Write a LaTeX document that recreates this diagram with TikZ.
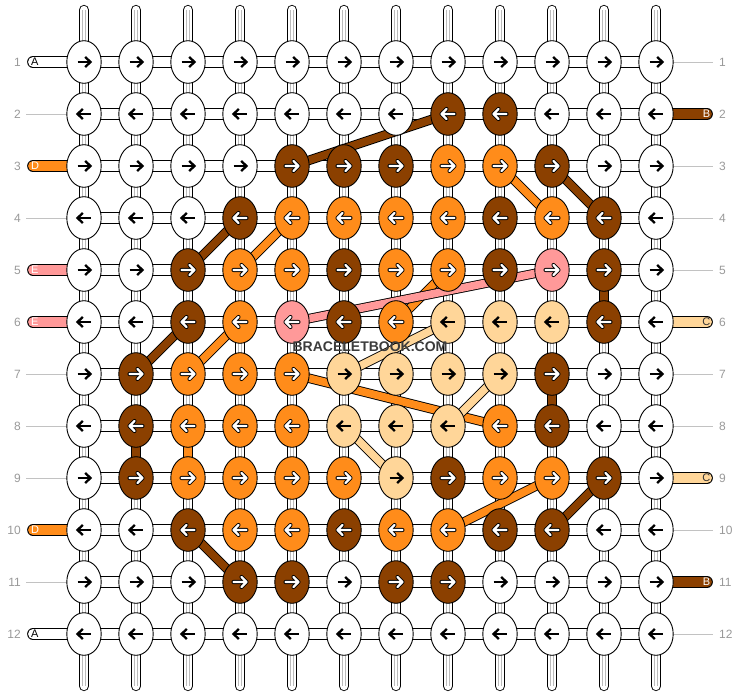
\documentclass[tikz,border=0pt]{standalone}
\usepackage{fontspec}
\setmainfont{Liberation Sans}
\usetikzlibrary{shapes.geometric}
\definecolor{cw}{HTML}{FFFFFF}
\definecolor{cb}{HTML}{8B4000}
\definecolor{co}{HTML}{FF8C1A}
\definecolor{cp}{HTML}{FF9999}
\definecolor{cc}{HTML}{FFD699}
\definecolor{lab}{HTML}{999999}
\definecolor{tube}{HTML}{BBBBBB}
\definecolor{wm}{HTML}{3C3C3C}
\definecolor{ctxt}{HTML}{333333}
\newcommand\mykArrow{\draw[black,line width=2.3pt] (-6.5,0) -- (6,0);
  \draw[black,line width=2.3pt,line join=miter] (1.2,-5) -- (6.5,0) -- (1.2,5);}
\newcommand\mywArrow{\draw[black,line width=4.1pt,line cap=round,line join=round] (-6.5,0) -- (6.5,0) (1.5,-5) -- (6.5,0) -- (1.5,5);
  \draw[white,line width=2.2pt,line cap=round,line join=round] (-6.5,0) -- (6.5,0) (1.5,-5) -- (6.5,0) -- (1.5,5);}
\tikzset{aw/.pic={\mykArrow}, ac/.pic={\mykArrow}, ab/.pic={\mywArrow}, ao/.pic={\mywArrow}, ap/.pic={\mywArrow}}
\begin{document}
\begin{tikzpicture}[x=1pt,y=-1pt,
  knot/.style={ellipse,draw=black,line width=0.9pt,minimum width=34.4pt,minimum height=42.6pt,inner sep=0pt},
  rowlab/.style={text=lab,font=\fontsize{12}{14}\selectfont,inner sep=0pt},
  stubtxt/.style={font=\fontsize{11}{12}\selectfont,inner sep=0pt},
  guide/.style={draw=lab!60,line width=0.7pt},
  outl/.style={draw=black,line width=#1},
  ]
\useasboundingbox (0,0) rectangle (740,696);
% grid coordinates
\foreach \j in {1,...,12}{\foreach \i in {1,...,12}{\coordinate (c-\j-\i) at ({84+(\i-1)*52},{62+(\j-1)*52});}}
\foreach \i in {1,...,12}{\coordinate (t-\i) at ({84+(\i-1)*52},10); \coordinate (b-\i) at ({84+(\i-1)*52},686);}
% vertical tubes
\foreach \i in {1,...,12}{
  \draw[line width=10.3pt,line cap=round] (t-\i) -- (b-\i);
  \draw[white,line width=8.5pt,line cap=round] (t-\i) -- (b-\i);
  \draw[tube,line width=0.8pt] ([xshift=-1.4pt]t-\i) -- ([xshift=-1.4pt]b-\i);
  \draw[tube,line width=0.8pt] ([xshift=1.4pt]t-\i) -- ([xshift=1.4pt]b-\i);
}
% horizontal connectors
\foreach \j in {1,...,12}{
  \draw[line width=11.7pt] (c-\j-1) -- (c-\j-12);
  \draw[white,line width=9.9pt] (c-\j-1) -- (c-\j-12);
}
% left stubs
\foreach \j/\col/\l/\tc in {1/cw/A/black, 3/co/D/white, 5/cp/E/white, 6/cp/E/white, 10/co/D/white, 12/cw/A/black}{
  \coordinate (ls-\j) at (33,{62+(\j-1)*52});
  \draw[line width=11.7pt,line cap=round] (ls-\j) -- (c-\j-1);
  \draw[\col,line width=9.9pt,line cap=round] (ls-\j) -- (c-\j-1);
  \node[stubtxt,text=\tc,anchor=west] (lt-\j) at (31,{62+(\j-1)*52}) {\l};
}
% right stubs
\foreach \j/\col/\l/\tc in {2/cb/B/white, 6/cc/C/ctxt, 9/cc/C/ctxt, 11/cb/B/white}{
  \coordinate (rs-\j) at (707,{62+(\j-1)*52});
  \draw[line width=11.7pt,line cap=round] (c-\j-12) -- (rs-\j);
  \draw[\col,line width=9.9pt,line cap=round] (c-\j-12) -- (rs-\j);
  \node[stubtxt,text=\tc,anchor=east] (rt-\j) at (710.5,{62+(\j-1)*52}) {\l};
}
% guide lines
\foreach \j in {2,4,7,8,9,11}{
  \coordinate (lg-\j) at (26,{62+(\j-1)*52});
  \draw[guide] (lg-\j) -- ([xshift=-17.2pt]c-\j-1);
}
\foreach \j in {1,3,4,5,7,8,10,12}{
  \coordinate (rg-\j) at (713,{62+(\j-1)*52});
  \draw[guide] ([xshift=17.2pt]c-\j-12) -- (rg-\j);
}
% row numbers
\foreach \j in {1,...,12}{
  \node[rowlab,anchor=east] (nl-\j) at (21,{62+(\j-1)*52}) {\j};
  \node[rowlab,anchor=west] (nr-\j) at (719,{62+(\j-1)*52}) {\j};
}
% coloured vertical connectors
\foreach \a/\b/\col in {5-11/6-11/cb, 7-10/8-10/cb, 8-2/9-2/cb, 8-3/9-3/co}{
  \draw[line width=10.3pt] (c-\a) -- (c-\b);
  \draw[\col,line width=8.5pt] (c-\a) -- (c-\b);
}
% diagonal thread bands
\foreach \a/\b/\col in {2-8/3-5/cb, 3-10/4-11/cb, 3-9/4-10/co, 4-4/5-3/cb, 4-5/5-4/co,
    6-3/7-2/cb, 6-4/7-3/co, 5-8/6-7/co, 5-10/6-5/cp, 6-8/7-6/cc, 7-5/8-9/co, 7-9/8-8/cc,
    8-6/9-7/cc, 9-10/10-8/co, 9-11/10-10/cb, 10-3/11-4/cb}{
  \draw[line width=9.5pt] (c-\a) -- (c-\b);
  \draw[\col,line width=7.7pt] (c-\a) -- (c-\b);
}
% knots
\foreach \row [count=\j] in {
  {w,w,w,w,w,w,w,w,w,w,w,w},
  {w,w,w,w,w,w,w,b,b,w,w,w},
  {w,w,w,w,b,b,b,o,o,b,w,w},
  {w,w,w,b,o,o,o,o,b,o,b,w},
  {w,w,b,o,o,b,o,o,b,p,b,w},
  {w,w,b,o,p,b,o,c,c,c,b,w},
  {w,b,o,o,o,c,c,c,c,b,w,w},
  {w,b,o,o,o,c,c,c,o,b,w,w},
  {w,b,o,o,o,o,c,b,o,o,b,w},
  {w,w,b,o,o,b,o,o,b,b,w,w},
  {w,w,w,b,b,w,b,b,w,w,w,w},
  {w,w,w,w,w,w,w,w,w,w,w,w}}{
  \pgfmathtruncatemacro\s{isodd(\j)?1:-1}
  \foreach \c [count=\i] in \row {
    \node[knot,fill=c\c] (k-\j-\i) at (c-\j-\i) {};
    \pic[xscale=\s] at (c-\j-\i) {a\c};
  }
}
% watermark
\node[font=\bfseries\fontsize{14}{16}\selectfont,text=wm,inner sep=0pt] (wmk) at (370,347) {BRACELETBOOK.COM};
\end{tikzpicture}
\end{document}
